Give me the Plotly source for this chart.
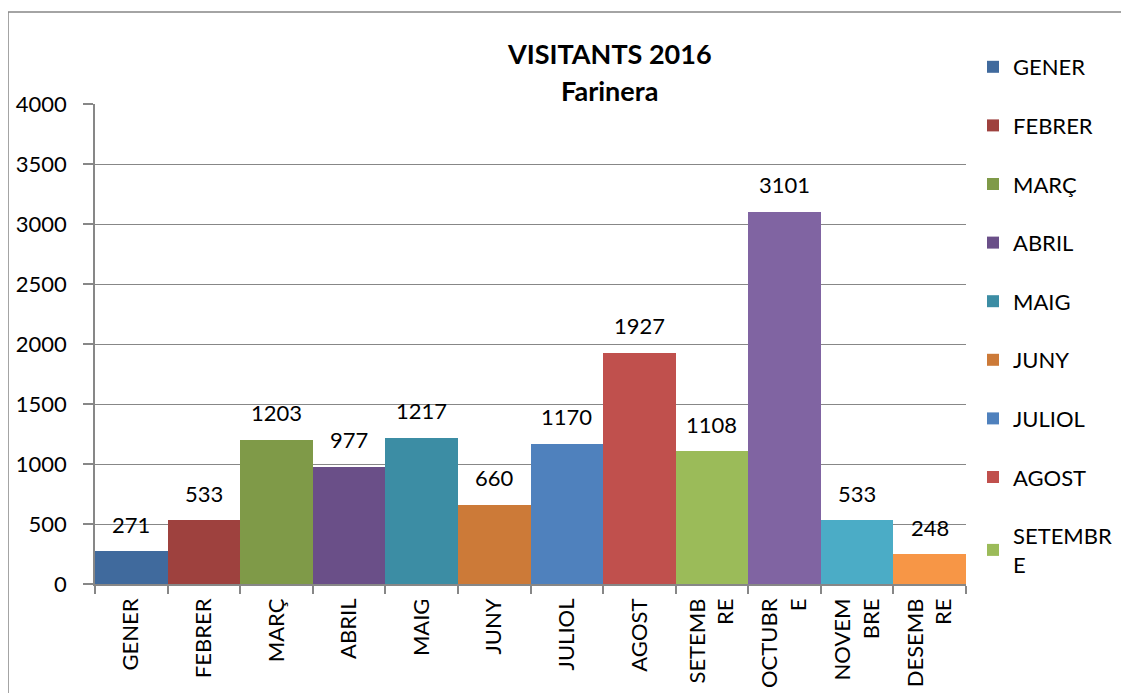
import plotly.graph_objects as go

legend_names = ["GENER", "FEBRER", "MARÇ", "ABRIL", "MAIG", "JUNY", "JULIOL",
                "AGOST", "SETEMBR<br>E", "OCTUBRE", "NOVEMBRE", "DESEMBRE"]
categories = ["GENER", "FEBRER", "MARÇ", "ABRIL", "MAIG", "JUNY", "JULIOL",
              "AGOST", "SETEMB<br>RE", "OCTUBR<br>E", "NOVEM<br>BRE", "DESEMB<br>RE"]
visitors = [271, 533, 1203, 977, 1217, 660, 1170, 1927, 1108, 3101, 533, 248]
colors = ["#406A9D", "#9E413E", "#7F9A48", "#6A4F88", "#3C8DA4", "#CC7A38",
          "#4F81BD", "#C0504D", "#9BBB59", "#8064A2", "#4BACC6", "#F79646"]
shown_in_legend = [True] * 9 + [False] * 3

FONT = "Lato"
GREY = "#878787"
OFF = 8  # page body margin

fig = go.Figure()
for name, cat, val, col, show in zip(legend_names, categories, visitors, colors, shown_in_legend):
    fig.add_trace(go.Bar(
        x=[cat], y=[val], name=name, marker=dict(color=col, line=dict(width=0)),
        width=1, showlegend=show, legendgroup=name,
    ))

W, H = 1129, 693
# plot area in page pixels: x 95..966, y 104..584
L = 95 - OFF
T = 104 - OFF
R = W - (966 - OFF)
B = H - (584 - OFF)
pw, ph = W - L - R, H - T - B

def px_x(x):
    return (x - OFF - L) / pw

def px_y(y):
    return (H - B - (y - OFF)) / ph

labels = [dict(x=cat, y=val, text=str(val), xref="x", yref="y", showarrow=False,
               xanchor="center", yanchor="middle", yshift=27,
               font=dict(size=22, family=FONT, color="black"))
          for cat, val in zip(categories, visitors)]

fig.update_layout(
    width=W, height=H,
    margin=dict(l=L, r=R, t=T, b=B, autoexpand=False),
    paper_bgcolor="white", plot_bgcolor="white",
    font=dict(family=FONT, size=22, color="black"),
    barmode="overlay", bargap=0,
    showlegend=True,
    legend=dict(x=(973 - OFF) / W, xref="container", xanchor="left",
                y=1 - (46 - OFF) / H, yref="container", yanchor="top",
                maxheight=1,
                font=dict(size=22, family=FONT, color="black"),
                tracegroupgap=27, itemsizing="constant", bgcolor="rgba(0,0,0,0)"),
    xaxis=dict(type="category", categoryorder="array", categoryarray=categories,
               tickangle=-90, showline=True, linecolor=GREY, linewidth=1.5,
               ticks="outside", tickson="boundaries", ticklen=8, tickcolor=GREY,
               tickwidth=1.5, showgrid=False, ticklabelstandoff=4,
               tickfont=dict(size=22, family=FONT, color="black")),
    yaxis=dict(range=[0, 4000], dtick=500, showline=True, linecolor=GREY, linewidth=1.5,
               ticks="outside", ticklen=10, tickcolor=GREY, tickwidth=1.5,
               ticklabelstandoff=12,
               showgrid=True, gridcolor=GREY, gridwidth=1, zeroline=False,
               tickfont=dict(size=22, family=FONT, color="black")),
    shapes=[dict(type="rect", xref="paper", yref="paper",
                 x0=px_x(8), x1=px_x(1145), y0=px_y(705), y1=px_y(12),
                 line=dict(color=GREY, width=1.5), fillcolor="rgba(0,0,0,0)", layer="below")],
    annotations=labels + [
        dict(text="<b>VISITANTS 2016</b>", xref="paper", yref="paper",
             x=px_x(609), y=px_y(53), xanchor="center", yanchor="middle",
             showarrow=False, font=dict(size=27, family=FONT, color="black")),
        dict(text="<b>Farinera</b>", xref="paper", yref="paper",
             x=px_x(609), y=px_y(90), xanchor="center", yanchor="middle",
             showarrow=False, font=dict(size=27, family=FONT, color="black")),
    ],
)

fig.write_html("out.html")
